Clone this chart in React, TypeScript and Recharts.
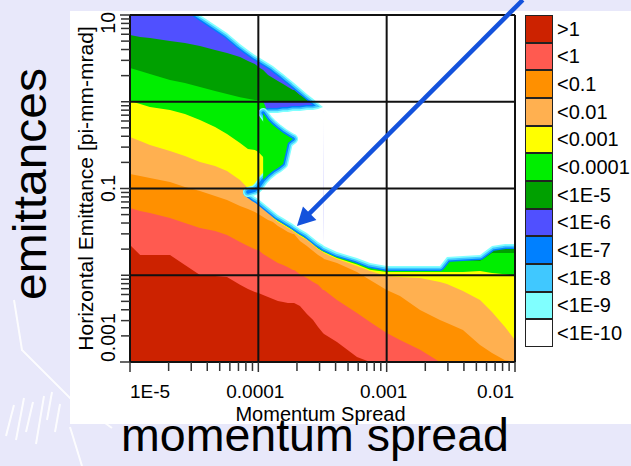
import React from 'react';
import { ComposedChart, Area, XAxis, YAxis, ReferenceLine, Legend } from 'recharts';

// ---------------- data ----------------
// momentum spread sample positions (x)
const momentumSpread = [1.0e-5, 1.2e-5, 1.43e-5, 2.05e-5, 2.68e-5, 3.51e-5, 4.6e-5, 5.7e-5, 7.2e-5, 8.3e-5, 9.4e-5, 1.0e-4, 1.09e-4, 1.19e-4, 1.3e-4, 1.42e-4, 1.56e-4, 1.7e-4, 1.86e-4, 1.9e-4, 2.11e-4, 2.39e-4, 2.67e-4, 2.92e-4, 3.19e-4, 3.25e-4, 4.1e-4, 5.87e-4, 7.42e-4, 1.0e-3, 1.27e-3, 1.82e-3, 2.6e-3, 2.95e-3, 3.93e-3, 5.34e-3, 6.62e-3, 8.36e-3, 1.0e-2];

// emittance below which each loss level is reached (upper boundary of each band)
const edgeTop = [32.1, 27.4, 23.4, 17.0, 13.0, 10.0, 7.67, 6.2, 4.63, 3.95, 3.46, 3.28, 3.03, 2.8, 2.58, 2.32, 2.09, 1.88, 1.69, 1.64, 1.44, 1.23, 1.08, 0.967, 0.87, 0.0217, 0.0185, 0.0158, 0.0138, 0.0128, 0.0128, 0.0128, 0.0128, 0.0162, 0.0167, 0.0171, 0.0217, 0.0229, 0.0229];
const top1e5 = [5.88, 5.58, 5.43, 5.02, 4.76, 4.39, 3.95, 3.65, 3.28, 2.95, 2.73, 2.52, 2.32, 2.03, 1.88, 1.73, 1.6, 1.48, 1.37, 1.37, 1.2, 1.1, 1.02, 0.0212, 0.0195, 0.019, 0.0162, 0.0138, 0.0121, 0.0113, 0.0113, 0.0113, 0.0113, 0.0144, 0.0148, 0.0152, 0.0195, 0.0203, 0.0203];
const top1e4 = [2.45, 2.26, 2.09, 1.78, 1.64, 1.48, 1.33, 1.23, 1.13, 1.08, 1.05, 1.05, 1.02, 1.02, 1.02, 1.02, 1.02, 1.02, 1.02, 0.0333, 0.0299, 0.0269, 0.0235, 0.0212, 0.0195, 0.019, 0.0162, 0.0138, 0.0121, 0.0113, 0.0113, 0.0113, 0.0113, 0.0144, 0.0148, 0.0146, 0.018, 0.018, 0.018];
const top1e3 = [1.02, 0.942, 0.87, 0.803, 0.723, 0.616, 0.512, 0.425, 0.335, 0.286, 0.278, 0.264, 0.231, 0.197, 0.047, 0.0422, 0.039, 0.036, 0.0333, 0.0324, 0.0291, 0.0262, 0.0229, 0.0203, 0.0188, 0.0185, 0.0158, 0.0133, 0.0116, 0.0109, 0.0109, 0.0109, 0.0109, 0.0109, 0.0109, 0.0112, 0.0106, 0.0103, 0.0098];
const top1e2 = [0.392, 0.353, 0.318, 0.271, 0.237, 0.202, 0.182, 0.159, 0.125, 0.101, 0.0961, 0.104, 0.125, 0.172, 0.0457, 0.0411, 0.038, 0.0351, 0.0324, 0.0315, 0.0284, 0.0255, 0.0223, 0.0201, 0.0185, 0.018, 0.0154, 0.0128, 0.0112, 0.0098, 0.00955, 0.0093, 0.00836, 0.00793, 0.00659, 0.00519, 0.00377, 0.00253, 0.00179];
const top1e1 = [0.147, 0.139, 0.132, 0.119, 0.104, 0.0936, 0.082, 0.0737, 0.0629, 0.0581, 0.0536, 0.0508, 0.047, 0.0434, 0.0411, 0.037, 0.0342, 0.0315, 0.0299, 0.0299, 0.0248, 0.0217, 0.019, 0.0171, 0.0158, 0.0154, 0.0138, 0.0109, 0.00882, 0.00676, 0.00577, 0.00398, 0.00305, 0.00282, 0.00234, 0.00157, 0.00127, 0.00105, 0.001];
const top1 = [0.0596, 0.0551, 0.0522, 0.0457, 0.04, 0.0351, 0.0324, 0.0291, 0.0242, 0.0217, 0.02, 0.0195, 0.0176, 0.0162, 0.015, 0.0138, 0.0131, 0.0124, 0.0115, 0.0115, 0.0103, 0.0093, 0.00836, 0.00777, 0.00676, 0.00676, 0.00519, 0.00367, 0.00289, 0.00216, 0.00179, 0.00138, 0.001, 0.001, 0.001, 0.001, 0.001, 0.001, 0.001];
const topAbove1 = [0.0223, 0.0171, 0.0171, 0.0171, 0.0131, 0.0101, 0.0098, 0.00955, 0.00777, 0.00694, 0.00641, 0.00624, 0.00592, 0.00562, 0.00533, 0.00505, 0.00492, 0.00479, 0.00479, 0.00479, 0.00442, 0.00358, 0.00305, 0.00253, 0.00216, 0.0021, 0.0017, 0.00114, 0.001, 0.001, 0.001, 0.001, 0.001, 0.001, 0.001, 0.001, 0.001, 0.001, 0.001];

// boundary lines of the clear (<1E-10) region
const upperEdge = [32.1, 27.4, 23.4, 17.0, 13.0, 10.0, 7.67, 6.2, 4.63, 3.95, 3.46, 3.28, 3.03, 2.8, 2.58, 2.32, 2.09, 1.88, 1.69, 1.64, 1.44, 1.23, 1.08, 0.967, 0.87, null, null, null, null, null, null, null, null, null, null, null, null, null, null];
const diagonalEdge = [null, null, null, null, null, null, null, null, null, 0.0911, 0.0798, 0.0757, 0.0681, 0.0612, 0.0551, 0.0495, 0.0457, 0.0422, 0.039, 0.038, 0.0342, 0.0307, 0.0269, 0.0242, 0.0223, 0.0217, 0.0185, 0.0158, 0.0138, 0.0128, 0.0128, 0.0128, 0.0128, 0.0162, 0.0167, 0.0171, 0.0217, 0.0229, 0.0229];
const tongueUnderside = [null, null, null, null, null, null, null, null, null, null, null, null, null, 0.742, 0.742, 0.742, 0.762, 0.762, 0.782, 0.782, 0.782, 0.803, 0.803, 0.825, 0.87, null, null, null, null, null, null, null, null, null, null, null, null, null, null];
const pocketTop = [null, null, null, null, null, null, null, null, null, 0.0911, 0.0961, 0.104, 0.125, 0.742, 0.742, 0.742, 0.762, 0.762, 0.782, 0.782, 0.782, 0.803, 0.803, 0.825, 0.87, 0.0217, null, null, null, null, null, null, null, null, null, null, null, null, null];
// green island inside the clear pocket
const islandTop = [null, null, null, null, null, null, null, null, null, null, null, null, 0.742, 0.616, 0.54, 0.485, 0.436, 0.403, 0.372, null, null, null, null, null, null, null, null, null, null, null, null, null, null, null, null, null, null, null, null];
const islandBottom = [null, null, null, null, null, null, null, null, null, 0.0911, 0.0961, 0.104, 0.125, 0.143, 0.159, 0.172, 0.192, 0.335, 0.372, null, null, null, null, null, null, null, null, null, null, null, null, null, null, null, null, null, null, null, null];
// <1E-6 rim on the underside of the tongue
const rimLow = [null, null, null, null, null, null, null, null, null, null, null, null, 1.02, 0.742, 0.742, 0.742, 0.762, 0.762, 0.782, 0.782, 0.782, 0.803, 0.803, 0.825, null, null, null, null, null, null, null, null, null, null, null, null, null, null, null];
const rimHigh = [null, null, null, null, null, null, null, null, null, null, null, null, 1.02, 1.02, 1.02, 1.02, 1.02, 1.02, 1.02, 1.02, 1.02, 1.02, 1.02, 0.825, null, null, null, null, null, null, null, null, null, null, null, null, null, null, null];

const legendLabels = ['>1', '<1', '<0.1', '<0.01', '<0.001', '<0.0001', '<1E-5', '<1E-6', '<1E-7', '<1E-8', '<1E-9', '<1E-10'];

const xTicks = [1e-5, 2e-5, 3e-5, 4e-5, 5e-5, 6e-5, 7e-5, 8e-5, 9e-5, 1e-4, 2e-4, 3e-4, 4e-4, 5e-4, 6e-4, 7e-4, 8e-4, 9e-4, 1e-3, 2e-3, 3e-3, 4e-3, 5e-3, 6e-3, 7e-3, 8e-3, 9e-3, 1e-2];
const xLabelValues = [1e-5, 1e-4, 1e-3, 1e-2];
const xLabelTexts = ['1E-5', '0.0001', '0.001', '0.01'];
const yTicks = [0.001, 0.002, 0.003, 0.004, 0.005, 0.006, 0.007, 0.008, 0.009, 0.01, 0.02, 0.03, 0.04, 0.05, 0.06, 0.07, 0.08, 0.09, 0.1, 0.2, 0.3, 0.4, 0.5, 0.6, 0.7, 0.8, 0.9, 1, 2, 3, 4, 5, 6, 7, 8, 9, 10];
const yLabelValues = [0.001, 0.1, 10];
const yLabelTexts = ['0.001', '0.1', '10'];
const xGrid = [1e-5, 1e-4, 1e-3, 1e-2];
const yGrid = [0.001, 0.01, 0.1, 1, 10];
const arrowFrom = [0.0115, 14.9];
const arrowTo = [2.0e-4, 0.037];

// ---------------- styles ----------------
const FONT = '"Liberation Sans", Arial, Helvetica, sans-serif';
const bandColors = ['#CC2200', '#FF5A50', '#FF9000', '#FFB050', '#FFFF00', '#00EE00', '#00A000', '#5050FF', '#0080FF', '#40C8FF', '#80FFFF', '#FFFFFF'];
const Y_MIN = 0.001;
const Y_MAX = 10;
const CEIL = 1000;

const pair = (lo: number | null, hi: number | null) => (lo == null || hi == null ? null : [lo, hi]);

const rows = momentumSpread.map((x, i) => ({
  x,
  b6: edgeTop[i],
  b5: top1e5[i],
  b4: top1e4[i],
  b3: top1e3[i],
  b2: top1e2[i],
  b1: top1e1[i],
  b0: top1[i],
  bg: topAbove1[i],
  rim: pair(rimLow[i], rimHigh[i]),
  upper: upperEdge[i],
  diag: diagonalEdge[i],
  under: tongueUnderside[i],
  clear: [edgeTop[i], CEIL],
  pocket: pair(diagonalEdge[i], pocketTop[i]),
  islandT: islandTop[i],
  islandB: islandBottom[i],
  island: pair(islandBottom[i], islandTop[i]),
}));

const layers = [
  { key: 'b6', color: bandColors[7] },
  { key: 'b5', color: bandColors[6] },
  { key: 'b4', color: bandColors[5] },
  { key: 'b3', color: bandColors[4] },
  { key: 'b2', color: bandColors[3] },
  { key: 'b1', color: bandColors[2] },
  { key: 'b0', color: bandColors[1] },
  { key: 'bg', color: bandColors[0] },
];
// halo of the clear region: widest drawn first, white drawn over the inner half
const outerHalos = [
  { color: bandColors[8], width: 10 },
  { color: bandColors[9], width: 7 },
  { color: bandColors[10], width: 3.5 },
];
const islandHalos = [
  { color: bandColors[10], width: 10 },
  { color: bandColors[9], width: 7 },
  { color: bandColors[8], width: 3.5 },
];

const near = (a: number, b: number) => Math.abs(a / b - 1) < 1e-6;

const XTick = (props: any) => {
  const { x, y, payload } = props;
  const v = payload.value;
  const li = xLabelValues.findIndex((lv) => near(lv, v));
  const axisY = y - 9;
  const anchor = li === 0 ? 'start' : li === xLabelValues.length - 1 ? 'end' : 'middle';
  const dx = anchor === 'middle' ? -3 : anchor === 'end' ? -1 : 0;
  return (
    <g>
      <line x1={x} x2={x} y1={axisY} y2={axisY + (li >= 0 ? 10 : 9)} stroke="#333" strokeWidth={1.5} />
      {li >= 0 && (
        <text x={x + dx} y={axisY + 36} textAnchor={anchor} fontSize={19} fontFamily={FONT} fill="#000">
          {xLabelTexts[li]}
        </text>
      )}
    </g>
  );
};

const YTick = (props: any) => {
  const { x, y, payload } = props;
  const v = payload.value;
  const li = yLabelValues.findIndex((lv) => near(lv, v));
  const axisX = x + 9;
  const anchor = li === 0 ? 'start' : li === yLabelValues.length - 1 ? 'end' : 'middle';
  const by = anchor === 'end' ? y - 3 : y;
  const bx = axisX - 15;
  return (
    <g>
      <line x1={axisX - (li >= 0 ? 10 : 9)} x2={axisX} y1={y} y2={y} stroke="#333" strokeWidth={1.5} />
      {li >= 0 && (
        <text x={bx} y={by} transform={`rotate(-90 ${bx} ${by})`} textAnchor={anchor} fontSize={19.5} fontFamily={FONT} fill="#000">
          {yLabelTexts[li]}
        </text>
      )}
    </g>
  );
};

const YTitle = (props: any) => {
  const vb = props.viewBox || { x: 0, y: 0, width: 0, height: 0 };
  const cx = vb.x + 23;
  const cy = vb.y + vb.height / 2;
  return (
    <text x={cx} y={cy} transform={`rotate(-90 ${cx} ${cy})`} textAnchor="middle" fontSize={21} fontFamily={FONT} fill="#000">
      Horizontal Emittance [pi-mm-mrad]
    </text>
  );
};

const XTitle = (props: any) => {
  const vb = props.viewBox || { x: 0, y: 0, width: 0, height: 0 };
  return (
    <text x={vb.x + vb.width / 2 - 2} y={vb.y + 59} textAnchor="middle" fontSize={20} fontFamily={FONT} fill="#000">
      Momentum Spread
    </text>
  );
};

const ArrowShape = (props: any) => {
  const { x1, y1, x2, y2 } = props;
  if ([x1, y1, x2, y2].some((v) => typeof v !== 'number' || !isFinite(v))) return <g />;
  const dx = x2 - x1;
  const dy = y2 - y1;
  const len = Math.hypot(dx, dy) || 1;
  const ux = dx / len;
  const uy = dy / len;
  const headLen = 18;
  const headHalf = 9.5;
  const bx = x2 - ux * headLen;
  const by = y2 - uy * headLen;
  const px = -uy;
  const py = ux;
  const c = '#1452DC';
  return (
    <g>
      <line x1={x1} y1={y1} x2={bx + ux * 3} y2={by + uy * 3} stroke={c} strokeWidth={4.5} />
      <polygon points={`${x2},${y2} ${bx + px * headHalf},${by + py * headHalf} ${bx - px * headHalf},${by - py * headHalf}`} fill={c} />
    </g>
  );
};

const LegendBox = () => (
  <div style={{ width: 116, paddingLeft: 10, boxSizing: 'border-box', fontFamily: FONT }}>
    {legendLabels.map((lab, i) => (
      <div key={lab} style={{ display: 'flex', alignItems: 'center', height: 27.67 }}>
        <div
          style={{
            width: 28,
            height: 27.67,
            boxSizing: 'border-box',
            border: '1.5px solid #222',
            background: bandColors[i],
            flex: '0 0 auto',
          }}
        />
        <span style={{ marginLeft: 4, fontSize: 20, lineHeight: '20px', color: '#000', whiteSpace: 'nowrap' }}>{lab}</span>
      </div>
    ))}
  </div>
);

const Backdrop = () => (
  <svg width={631} height={466} style={{ position: 'absolute', left: 0, top: 0 }}>
    <rect x={0} y={0} width={631} height={466} fill="#E8E8FA" />
    <g stroke="#FFFFFF" strokeWidth={2} fill="none" opacity={0.9}>
      <path d="M14,300 L22,350 L70,398 L112,428" />
      <path d="M70,427 L82,466" />
      <path d="M6,436 L14,405" />
      <path d="M16,440 L24,398" />
      <path d="M26,432 L33,402" />
      <path d="M36,444 L44,396" />
      <path d="M47,420 L52,392" />
      <path d="M55,432 L60,404" />
    </g>
    <rect x={70} y={11} width={561} height={413} fill="#FFFFFF" />
    <text x={46} y={184} transform="rotate(-90 46 184)" textAnchor="middle" fontSize={47} fontFamily={FONT} fill="#000" textLength={232} lengthAdjust="spacingAndGlyphs">
      emittances
    </text>
    <text x={315} y={451} textAnchor="middle" fontSize={47} fontFamily={FONT} fill="#000" textLength={388} lengthAdjust="spacingAndGlyphs">
      momentum spread
    </text>
  </svg>
);

const common = { type: 'linear' as const, isAnimationActive: false, dot: false, activeDot: false };

export default function App() {
  let z = 100;
  const nextZ = () => z++;
  return (
    <div style={{ position: 'absolute', left: 0, top: 0, width: 631, height: 466, overflow: 'hidden', fontFamily: FONT }}>
      <Backdrop />
      <div style={{ position: 'absolute', left: 0, top: 0 }}>
        <ComposedChart width={631} height={466} data={rows} margin={{ top: 15, right: 0, bottom: 44, left: 70 }} style={{ fontFamily: FONT }}>
          <XAxis
            type="number"
            dataKey="x"
            scale="log"
            domain={[1e-5, 1e-2]}
            allowDataOverflow
            ticks={xTicks}
            interval={0}
            tick={<XTick />}
            tickLine={false}
            axisLine={false}
            tickSize={9}
            tickMargin={0}
            height={60}
            label={{ content: XTitle }}
          />
          <YAxis
            type="number"
            scale="log"
            domain={[Y_MIN, Y_MAX]}
            allowDataOverflow
            ticks={yTicks}
            interval={0}
            tick={<YTick />}
            tickLine={false}
            axisLine={false}
            tickSize={9}
            tickMargin={0}
            width={60}
            label={{ content: YTitle }}
          />
          <Legend layout="vertical" align="right" verticalAlign="top" width={116} content={() => <LegendBox />} />
          {layers.map((l) => (
            <Area key={l.key} {...common} zIndex={nextZ()} dataKey={l.key} baseValue={Y_MIN} fill={l.color} fillOpacity={1} stroke="none" />
          ))}
          <Area key="rim" {...common} zIndex={nextZ()} dataKey="rim" fill={bandColors[7]} fillOpacity={1} stroke="none" />
          {outerHalos.map((h, hi) =>
            ['upper', 'diag', 'under'].map((k) => (
              <Area
                key={`oh-${hi}-${k}`}
                {...common}
                zIndex={nextZ()}
                dataKey={k}
                baseValue={Y_MIN}
                fill="none"
                stroke={h.color}
                strokeWidth={h.width}
                strokeLinejoin="round"
                strokeLinecap="round"
              />
            ))
          )}
          <Area key="clear" {...common} zIndex={nextZ()} dataKey="clear" fill="#FFFFFF" fillOpacity={1} stroke="none" />
          <Area key="pocket" {...common} zIndex={nextZ()} dataKey="pocket" fill="#FFFFFF" fillOpacity={1} stroke="none" />
          {islandHalos.map((h, hi) =>
            ['islandT', 'islandB'].map((k) => (
              <Area
                key={`ih-${hi}-${k}`}
                {...common}
                zIndex={nextZ()}
                dataKey={k}
                baseValue={Y_MIN}
                fill="none"
                stroke={h.color}
                strokeWidth={h.width}
                strokeLinejoin="round"
                strokeLinecap="round"
              />
            ))
          )}
          <Area key="island" {...common} zIndex={nextZ()} dataKey="island" fill={bandColors[5]} fillOpacity={1} stroke="none" />
          {xGrid.map((v) => (
            <ReferenceLine key={`gx-${v}`} zIndex={900} x={v} stroke="#111" strokeWidth={2} />
          ))}
          {yGrid.map((v) => (
            <ReferenceLine key={`gy-${v}`} zIndex={900} y={v} stroke="#111" strokeWidth={2} />
          ))}
          <ReferenceLine
            zIndex={950}
            segment={[
              { x: arrowFrom[0], y: arrowFrom[1] },
              { x: arrowTo[0], y: arrowTo[1] },
            ]}
            ifOverflow="visible"
            shape={ArrowShape}
          />
        </ComposedChart>
      </div>
    </div>
  );
}
